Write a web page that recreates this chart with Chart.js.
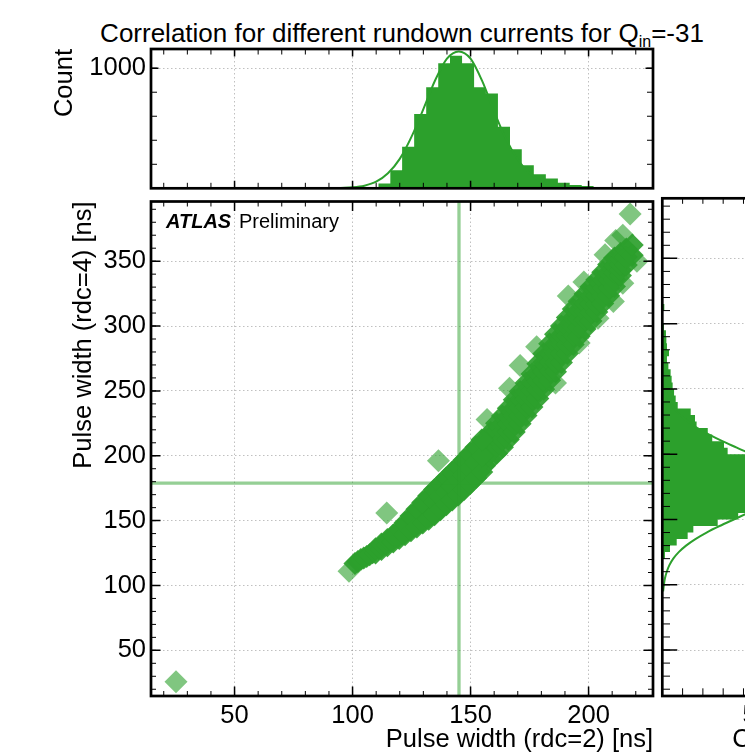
<!DOCTYPE html>
<html>
<head>
<meta charset="utf-8">
<script src="https://cdn.jsdelivr.net/npm/chart.js@4.4.0/dist/chart.umd.min.js"></script>
<style>
  html, body { margin: 0; padding: 0; background: #fff; overflow: hidden; }
  body { width: 745px; height: 755px; position: relative; }
  canvas { position: absolute; }
  #title { position: absolute; left: 0; width: 804px; top: 18px; line-height: 30px; text-align: center;
           font-family: "Liberation Sans", Arial, sans-serif; font-size: 26px; white-space: nowrap; color: #000; }
  #title sub { font-size: 16px; vertical-align: -5px; line-height: 0; }
</style>
</head>
<body>
<div id="title">Correlation for different rundown currents for Q<sub>in</sub>=-31</div>
<canvas id="top" width="745" height="195" style="left:0;top:0;width:745px;height:195px"></canvas>
<canvas id="main" width="745" height="565" style="left:0;top:190px;width:745px;height:565px"></canvas>
<canvas id="side" width="260" height="565" style="left:600px;top:190px;width:260px;height:565px"></canvas>
<script>
// axis ranges and tick labels
const xRange = [14.6, 227.3];
const yRange = [14.8, 396];
const topCountMax = 1160;
const sideCountMax = 680;
const xTickVals = [50, 100, 150, 200];
const yTickVals = [50, 100, 150, 200, 250, 300, 350];
const topCountTicks = [0, 1000];
const sideCountTicks = [0, 500];

// top histogram: pulse width rdc=2
const topEdges = [110.9, 116.0, 121.0, 126.1, 131.2, 136.3, 141.3, 146.4, 151.5, 156.5, 161.6, 166.7, 171.7, 176.8, 181.9, 187.0, 192.0, 197.1, 202.2];
const topCounts = [40, 150, 345, 618, 841, 1042, 1103, 1042, 841, 790, 512, 326, 192, 117, 81, 47, 28, 20];
const topFitX = [95, 100, 105, 110, 115, 120, 125, 130, 135, 140, 145, 150, 155, 160, 165, 170, 175, 180, 185, 190, 195];
const topFitY = [3, 8, 22, 55, 125, 245, 430, 660, 900, 1080, 1140, 1080, 890, 640, 410, 240, 125, 55, 22, 8, 3];

// side histogram: pulse width rdc=4
const sideEdges = [115, 120, 125, 130, 135, 140, 145, 150, 155, 160, 165, 170, 175, 180, 185, 190, 195, 200, 205, 210,
                   215, 220, 225, 230, 235, 240, 245, 250, 255, 260, 265, 270, 275, 280, 285, 290, 295, 300, 305, 310, 315, 320];
const sideCounts = [4, 13, 38, 71, 125, 153, 273, 374, 450, 520, 590, 640, 650, 620, 560, 500, 430, 322, 304, 246,
                    224, 169, 161, 140, 76, 66, 58, 51, 46, 41, 30, 23, 33, 23, 20, 18, 8, 3, 2, 10, 1];
const sideFitY = [95, 100, 105, 110, 115, 120, 125, 130, 135, 140, 145, 150, 155, 160, 165, 170, 175, 180, 185, 190,
                  195, 200, 205, 210, 215, 220, 225, 230, 235, 240, 245, 250, 255, 260, 265];
const sideFitX = [4, 8, 13, 22, 35, 54, 81, 117, 163, 218, 282, 352, 423, 491, 550, 593, 617, 619, 599, 560,
                  504, 438, 367, 296, 231, 173, 126, 88, 59, 38, 24, 15, 9, 5, 3];

// scatter band, read column by column (rows from the lower to the upper side of the band)
const bandX = [101, 103.5, 106, 108.5, 111, 113.5, 116, 118.5, 121, 123.5, 126, 128.5, 131, 133.5, 136, 138.5,
               141, 143.5, 146, 148.5, 151, 153.5, 156, 158.5, 161, 163.5, 166, 168.5, 171, 173.5, 176, 178.5,
               181, 183.5, 186, 188.5, 191, 193.5, 196, 198.5, 201, 203.5, 206, 208.5, 211, 213.5, 216, 218.5];
const bandLow = [117, 120, 122.4, 125.2, 128.3, 131.6, 134.7, 137.8, 139.8, 142.7, 145.7, 148.6, 151.6, 154.6, 158.5, 162.3,
                 166, 169.8, 173.6, 178.2, 182.8, 187.3, 192.5, 197.6, 201.7, 206.6, 212.5, 218.4, 224.6, 231.1, 237.6, 244.1,
                 251.2, 258.2, 264.8, 271.8, 278.8, 285.8, 292.2, 297.7, 303.8, 310.8, 317.4, 323.4, 330.4, 338.9, 347, 354.5];
const bandQ1 = [null, null, null, null, null, null, null, null, null, null, null, null, null, null, null, null,
                null, null, null, null, null, null, 197.5, 202.8, 207.6, 212.6, 218.6, 224.6, 230.9, 237.4, 244, 250.8,
                258, 265.3, 272, 278.9, 285.8, 292.7, 299, 304.5, 310.4, 317, 323.4, 329.4, 335.9, 343.2, null, null];
const bandMid = [null, null, null, null, null, null, null, null, null, null, null, null, null, 162.2, 166.4, 170.5,
                 174.7, 178.8, 183, 187.8, 192.5, 197.2, 202.5, 207.9, 213.4, 218.6, 224.6, 230.8, 237.1, 243.6, 250.4, 257.5,
                 264.9, 272.3, 279.2, 286, 292.7, 299.5, 305.7, 311.2, 317, 323.3, 329.4, 335.4, 341.4, 347.4, 353.2, null];
const bandQ3 = [null, null, null, null, null, null, null, null, null, null, null, null, null, null, null, null,
                null, null, null, null, null, null, 207.5, 213.1, 219.2, 224.6, 230.6, 237, 243.4, 249.9, 256.8, 264.2,
                271.8, 279.4, 286.4, 293.1, 299.7, 306.3, 312.5, 318, 323.6, 329.5, 335.4, 341.4, 346.9, 351.7, null, null];
const bandHigh = [null, null, null, null, null, null, null, null, 143.8, 149, 154.2, 159.4, 164.6, 169.7, 174.2, 178.7,
                  183.3, 187.8, 192.4, 197.3, 202.2, 207, 212.4, 218.2, 225, 230.6, 236.6, 243.1, 249.6, 256.1, 263.1, 270.9,
                  278.6, 286.4, 293.6, 300.1, 306.6, 313.1, 319.2, 324.7, 330.2, 335.7, 341.4, 347.4, 352.4, 355.9, 359.3, 362.4];
// in-between columns of the narrow lower part of the band
const band2X = [102.25, 104.75, 107.25, 109.75, 112.25, 114.75, 117.25, 119.75, 122.25, 124.75, 127.25,
                129.75, 132.25, 134.75, 137.25, 139.75, 142.25, 144.75, 147.25, 149.75, 152.25, 154.75];
const band2Low = [118.5, 121.2, 123.6, 125, 127.8, 130.7, 133.5, 136.3, 139.2, 142.2, 145.1,
                  148.1, 151.1, 154.6, 158.4, 162.2, 165.9, 169.7, 173.9, 178.5, 183, 187.4];
const band2Mid = [null, null, null, null, null, null, null, null, null, null, null,
                  null, null, 164.3, 168.5, 172.6, 176.7, 180.9, 185.4, 190.1, 194.8, 199.8];
const band2High = [null, null, null, 128.4, 131.9, 135.4, 138.9, 143.2, 148.4, 153.6, 158.8,
                   164, 169.2, 174, 178.5, 183, 187.5, 192, 196.8, 201.7, 206.6, 212.2];
// loose points on the edge of the band and isolated outliers
const fringeX = [98.5, 157, 166.5, 171, 178, 191.4, 198, 207, 211.5, 214.5, 186, 196, 204, 210.5, 214.5, 220.5];
const fringeY = [111, 228, 252, 269.6, 284, 323.2, 334, 355, 366, 370, 256, 287, 306, 319, 333, 350];
const outX = [25.2, 114.5, 136.4, 217.6];
const outY = [25.7, 155.9, 196.1, 386.3];
const meanX = 145.1;
const meanY = 178.9;

const FONT = '"Liberation Sans", Arial, Helvetica, sans-serif';
const GREEN = '#2ca02c';
Chart.defaults.font.family = FONT;
Chart.defaults.color = '#000';

const tickFont = {family: FONT, size: 25.5};
const grid = {color: 'rgba(0,0,0,0.28)', lineWidth: 0.9, drawTicks: false};
const border = {display: false, dash: [1.5, 2.5]};
const plain = v => String(v);
const noZero = v => (v === 0 ? '' : String(v));
const setTicks = vals => s => { s.ticks = vals.map(v => ({value: v})); };
// fixed axis box sizes, so every plot area sits where it is in the picture
const fixH = h => s => { s.height = h; s.paddingTop = s.paddingBottom = s.paddingLeft = s.paddingRight = 0; };
const fixW = w => s => { s.width = w; s.paddingTop = s.paddingBottom = s.paddingLeft = s.paddingRight = 0; };

// frame plus inward major/minor ticks on all four sides
const frame = {
  id: 'frame',
  afterDraw(chart, args, o) {
    const {ctx, chartArea: a} = chart;
    const {x, y} = chart.scales;
    ctx.save();
    ctx.strokeStyle = '#000';
    const marks = (scale, step, len, w) => {
      ctx.lineWidth = w;
      ctx.beginPath();
      for (let v = Math.ceil(scale.min / step) * step; v < scale.max; v += step) {
        if (v <= scale.min) continue;
        const p = scale.getPixelForValue(v);
        if (scale.isHorizontal()) {
          ctx.moveTo(p, a.bottom); ctx.lineTo(p, a.bottom - len[0]);
          ctx.moveTo(p, a.top); ctx.lineTo(p, a.top + len[1]);
        } else {
          ctx.moveTo(a.left, p); ctx.lineTo(a.left + len[0], p);
          ctx.moveTo(a.right, p); ctx.lineTo(a.right - len[1], p);
        }
      }
      ctx.stroke();
    };
    marks(x, o.xMinor, o.xMinorLen, 1);
    marks(x, o.xMajor, o.xMajorLen, 1.5);
    marks(y, o.yMinor, o.yMinorLen, 1);
    marks(y, o.yMajor, o.yMajorLen, 1.5);
    ctx.lineWidth = 2.7;
    ctx.strokeRect(a.left, a.top, a.right - a.left, a.bottom - a.top);
    ctx.restore();
  }
};

const atlasLabel = {
  id: 'atlasLabel',
  afterDraw(chart) {
    const {ctx, chartArea: a} = chart;
    ctx.save();
    ctx.fillStyle = '#000';
    ctx.textBaseline = 'alphabetic';
    ctx.font = 'italic bold 20px ' + FONT;
    ctx.fillText('ATLAS', a.left + 15, a.top + 26.7);
    ctx.font = '20px ' + FONT;
    ctx.fillText('Preliminary', a.left + 88, a.top + 26.7);
    ctx.restore();
  }
};

const base = {
  responsive: false,
  animation: false,
  events: [],
  plugins: {legend: {display: false}, tooltip: {enabled: false}}
};

// ---------- top histogram ----------
const topHist = topEdges.map((e, i) => ({x: e, y: topCounts[Math.min(i, topCounts.length - 1)]}));
const topFit = topFitX.map((x, i) => ({x, y: topFitY[i]}));

new Chart(document.getElementById('top'), {
  type: 'line',
  data: {
    datasets: [
      {data: topFit, borderColor: GREEN, borderWidth: 2, pointRadius: 0, cubicInterpolationMode: 'monotone', fill: false},
      {data: topHist, stepped: 'before', fill: 'origin', backgroundColor: GREEN, borderColor: 'transparent', borderWidth: 0, pointRadius: 0}
    ]
  },
  options: {
    ...base,
    layout: {padding: {left: 0, right: 92, top: 49, bottom: 6.7}},
    plugins: {...base.plugins,
      frame: {xMajor: 50, xMinor: 10, yMajor: 1000, yMinor: 200,
              xMajorLen: [7.5, 7.5], xMinorLen: [5.5, 5.5], yMajorLen: [7.5, 7.5], yMinorLen: [6, 6]}},
    scales: {
      x: {type: 'linear', min: xRange[0], max: xRange[1], grid, border,
          ticks: {display: false},
          afterBuildTicks: setTicks(xTickVals), afterFit: fixH(0)},
      y: {type: 'linear', min: 0, max: topCountMax, grid, border,
          ticks: {padding: 5, font: tickFont, callback: noZero},
          title: {display: true, text: 'Count', align: 'end', font: tickFont, padding: {top: 49.5, bottom: 0}},
          afterBuildTicks: setTicks(topCountTicks), afterFit: fixW(151)}
    }
  },
  plugins: [frame]
});

// ---------- main scatter ----------
const bandPts = [];
bandX.forEach((x, i) => {
  [bandLow[i], bandQ1[i], bandMid[i], bandQ3[i], bandHigh[i]].forEach(y => { if (y !== null) bandPts.push({x, y}); });
});
band2X.forEach((x, i) => {
  [band2Low[i], band2Mid[i], band2High[i]].forEach(y => { if (y !== null) bandPts.push({x, y}); });
});
const loosePts = fringeX.map((x, i) => ({x, y: fringeY[i]})).concat(outX.map((x, i) => ({x, y: outY[i]})));

new Chart(document.getElementById('main'), {
  type: 'scatter',
  data: {
    datasets: [
      {type: 'line', data: [{x: meanX, y: yRange[0]}, {x: meanX, y: yRange[1]}], borderColor: 'rgba(44,160,44,0.5)', borderWidth: 3.3, pointRadius: 0},
      {type: 'line', data: [{x: xRange[0], y: meanY}, {x: xRange[1], y: meanY}], borderColor: 'rgba(44,160,44,0.5)', borderWidth: 3.3, pointRadius: 0},
      {data: bandPts, pointStyle: 'rectRot', pointRadius: 11.5, backgroundColor: 'rgba(44,160,44,0.92)', borderWidth: 0},
      {data: loosePts, pointStyle: 'rectRot', pointRadius: 11.5, backgroundColor: 'rgba(44,160,44,0.6)', borderWidth: 0}
    ]
  },
  options: {
    ...base,
    layout: {padding: {left: 0, right: 92, top: 8.3, bottom: 0}},
    plugins: {...base.plugins,
      frame: {xMajor: 50, xMinor: 10, yMajor: 50, yMinor: 10,
              xMajorLen: [9.5, 9.5], xMinorLen: [5, 5], yMajorLen: [9.5, 9.5], yMinorLen: [5, 5]}},
    scales: {
      x: {type: 'linear', min: xRange[0], max: xRange[1], grid, border,
          ticks: {padding: 5, maxRotation: 0, font: tickFont, callback: plain},
          title: {display: true, text: 'Pulse width (rdc=2) [ns]', align: 'end', font: tickFont, padding: {top: 0, bottom: 0}},
          afterBuildTicks: setTicks(xTickVals), afterFit: fixH(59)},
      y: {type: 'linear', min: yRange[0], max: yRange[1], grid, border,
          ticks: {padding: 5, font: tickFont, callback: plain},
          title: {display: true, text: 'Pulse width (rdc=4) [ns]', align: 'end', font: tickFont, padding: {top: 69, bottom: 0}},
          afterBuildTicks: setTicks(yTickVals), afterFit: fixW(151)}
    }
  },
  plugins: [frame, atlasLabel]
});

// ---------- side histogram ----------
const sideHist = sideEdges.map((e, i) => ({x: sideCounts[Math.min(i, sideCounts.length - 1)], y: e}));
const sideFit = sideFitY.map((y, i) => ({x: sideFitX[i], y}));

new Chart(document.getElementById('side'), {
  type: 'line',
  data: {
    datasets: [
      {data: sideFit, borderColor: GREEN, borderWidth: 2, pointRadius: 0, cubicInterpolationMode: 'monotone', fill: false},
      {data: sideHist, stepped: 'after', fill: 'origin', backgroundColor: GREEN, borderColor: 'transparent', borderWidth: 0, pointRadius: 0}
    ]
  },
  options: {
    ...base,
    indexAxis: 'y',
    layout: {padding: {left: 62.3, right: 59.7, top: 8.3, bottom: 0}},
    plugins: {...base.plugins,
      frame: {xMajor: 500, xMinor: 100, yMajor: 50, yMinor: 10,
              xMajorLen: [12, 8], xMinorLen: [7.7, 5.5], yMajorLen: [15, 15], yMinorLen: [7.7, 7.7]}},
    scales: {
      x: {type: 'linear', min: 0, max: sideCountMax, grid, border,
          ticks: {padding: 5, maxRotation: 0, font: tickFont, callback: noZero},
          title: {display: true, text: 'Count', align: 'end', font: tickFont, padding: {top: 0, bottom: 0}},
          afterBuildTicks: setTicks(sideCountTicks), afterFit: fixH(59)},
      y: {type: 'linear', min: yRange[0], max: yRange[1], grid, border,
          ticks: {display: false},
          afterBuildTicks: setTicks(yTickVals), afterFit: fixW(0)}
    }
  },
  plugins: [frame]
});
</script>
</body>
</html>
